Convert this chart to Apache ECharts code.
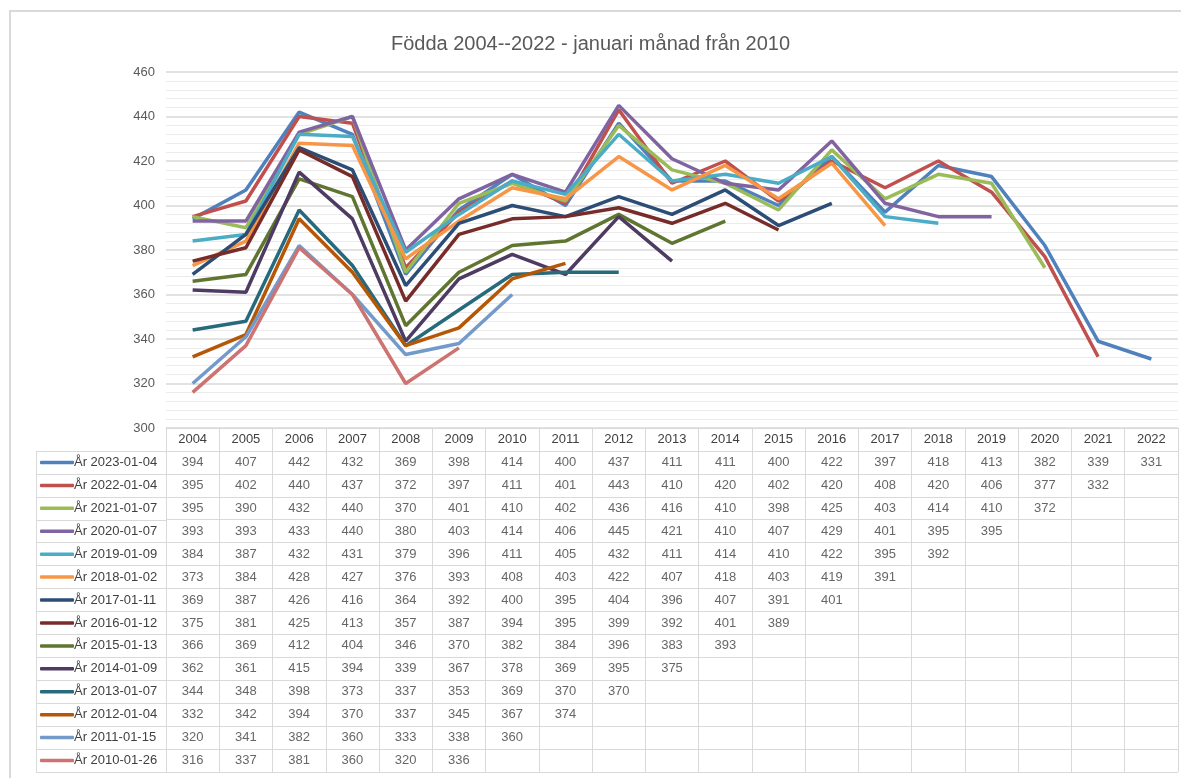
<!DOCTYPE html>
<html>
<head>
<meta charset="utf-8">
<title>Födda 2004--2022</title>
<style>
	html, body { margin: 0; padding: 0; background: #fff; }
	#ram { position: absolute; left: 9px; top: 10px; right: 0; bottom: 0; border-top: 2px solid #d9d9d9; border-left: 2px solid #d9d9d9; }
	#main { position: absolute; left: 0; top: 0; width: 1181px; height: 778px; }
</style>
</head>
<body>
<div id="ram"></div>
<div id="main"></div>
<script src="https://cdn.jsdelivr.net/npm/echarts@6/dist/echarts.min.js"></script>
<script>
	// år på x-axeln
	var years = ['2004','2005','2006','2007','2008','2009','2010','2011','2012','2013','2014','2015','2016','2017','2018','2019','2020','2021','2022'];
	// serienamn (rader i datatabellen)
	var names = ['År 2023-01-04','År 2022-01-04','År 2021-01-07','År 2020-01-07','År 2019-01-09','År 2018-01-02','År 2017-01-11','År 2016-01-12','År 2015-01-13','År 2014-01-09','År 2013-01-07','År 2012-01-04','År 2011-01-15','År 2010-01-26'];
	var colors = ['#4f81bd','#c0504d','#9bbb59','#8064a2','#4bacc6','#f79646','#2c4d75','#772c2a','#5f7530','#4d3b62','#276a7c','#b65708','#729aca','#cd7371'];

	var d2023 = [394,407,442,432,369,398,414,400,437,411,411,400,422,397,418,413,382,339,331];
	var d2022 = [395,402,440,437,372,397,411,401,443,410,420,402,420,408,420,406,377,332];
	var d2021 = [395,390,432,440,370,401,410,402,436,416,410,398,425,403,414,410,372];
	var d2020 = [393,393,433,440,380,403,414,406,445,421,410,407,429,401,395,395];
	var d2019 = [384,387,432,431,379,396,411,405,432,411,414,410,422,395,392];
	var d2018 = [373,384,428,427,376,393,408,403,422,407,418,403,419,391];
	var d2017 = [369,387,426,416,364,392,400,395,404,396,407,391,401];
	var d2016 = [375,381,425,413,357,387,394,395,399,392,401,389];
	var d2015 = [366,369,412,404,346,370,382,384,396,383,393];
	var d2014 = [362,361,415,394,339,367,378,369,395,375];
	var d2013 = [344,348,398,373,337,353,369,370,370];
	var d2012 = [332,342,394,370,337,345,367,374];
	var d2011 = [320,341,382,360,333,338,360];
	var d2010 = [316,337,381,360,320,336];

	var allData = [d2023,d2022,d2021,d2020,d2019,d2018,d2017,d2016,d2015,d2014,d2013,d2012,d2011,d2010];

	var textColor = '#595959';
	var cellColor = '#404040';
	var gridColor = '#d9d9d9';
	var font = 'Liberation Sans';

	var myChart = echarts.init(document.getElementById('main'));

	var series = [];
	var cells = [];
	for (var i = 0; i < allData.length; i++) {
		series.push({
			name: names[i],
			type: 'line',
			xAxisIndex: 0,
			yAxisIndex: 0,
			data: allData[i],
			symbol: 'none',
			lineStyle: { width: 3.5, color: colors[i] },
			itemStyle: { color: colors[i] }
		});
		for (var j = 0; j < allData[i].length; j++) {
			cells.push([j, i + 1, allData[i][j]]);
		}
	}
	// tabellvärden
	series.push({
		type: 'scatter',
		xAxisIndex: 1,
		yAxisIndex: 1,
		data: cells,
		symbolSize: 1,
		itemStyle: { color: 'rgba(0,0,0,0)' },
		silent: true,
		label: {
			show: true,
			position: 'inside',
			color: cellColor,
			fontFamily: font,
			fontSize: 13,
			formatter: function (p) { return p.value[2]; }
		}
	});

	var rich = { t: { color: cellColor, fontFamily: font, fontSize: 13, verticalAlign: 'middle' } };
	for (var k = 0; k < colors.length; k++) {
		rich['s' + k] = { width: 34, height: 3.5, backgroundColor: colors[k], borderRadius: 1, verticalAlign: 'middle' };
	}

	myChart.setOption({
		animation: false,
		title: {
			text: 'Födda 2004--2022 - januari månad från 2010',
			left: 'center',
			top: 29,
			textStyle: { color: textColor, fontFamily: font, fontSize: 20, fontWeight: 'normal' }
		},
		grid: [
			{ left: 166, right: 3, top: 72, bottom: 350 },
			{ left: 166, right: 3, top: 428, bottom: 6 },
			{ left: 36, width: 130, top: 451, bottom: 6 }
		],
		xAxis: [
			{
				type: 'category', gridIndex: 0, data: years, boundaryGap: true,
				axisLine: { show: true, lineStyle: { color: gridColor } },
				axisTick: { show: false },
				axisLabel: { color: cellColor, fontFamily: font, fontSize: 13, margin: 5 }
			},
			{
				type: 'category', gridIndex: 1, data: years, position: 'top',
				axisLine: { show: false }, axisTick: { show: false }, axisLabel: { show: false },
				splitLine: { show: true, lineStyle: { color: gridColor, width: 1 } }
			},
			{
				type: 'category', gridIndex: 2, data: [''],
				axisLine: { show: false }, axisTick: { show: false }, axisLabel: { show: false },
				splitLine: { show: true, lineStyle: { color: gridColor, width: 1 } }
			}
		],
		yAxis: [
			{
				type: 'value', gridIndex: 0, min: 300, max: 460, interval: 20,
				axisLine: { show: false }, axisTick: { show: false },
				axisLabel: { color: textColor, fontFamily: font, fontSize: 13, margin: 11 },
				splitLine: { lineStyle: { color: gridColor, width: 1.5 } },
				minorTick: { show: false, splitNumber: 5 },
				minorSplitLine: { show: true, lineStyle: { color: '#ebebeb', width: 1 } }
			},
			{
				type: 'category', gridIndex: 1, inverse: true, data: [''].concat(names),
				axisLine: { show: false }, axisTick: { show: false }, axisLabel: { show: false },
				splitLine: { show: true, lineStyle: { color: gridColor, width: 1 } }
			},
			{
				type: 'category', gridIndex: 2, inverse: true, data: names,
				axisLine: { show: true, lineStyle: { color: gridColor } },
				axisTick: { show: false },
				splitLine: { show: true, lineStyle: { color: gridColor, width: 1 } },
				axisLabel: {
					inside: true,
					margin: 4,
					align: 'left',
					formatter: function (value) {
						return '{s' + names.indexOf(value) + '|}{t|' + value + '}';
					},
					rich: rich
				}
			}
		],
		series: series
	});
</script>
</body>
</html>
